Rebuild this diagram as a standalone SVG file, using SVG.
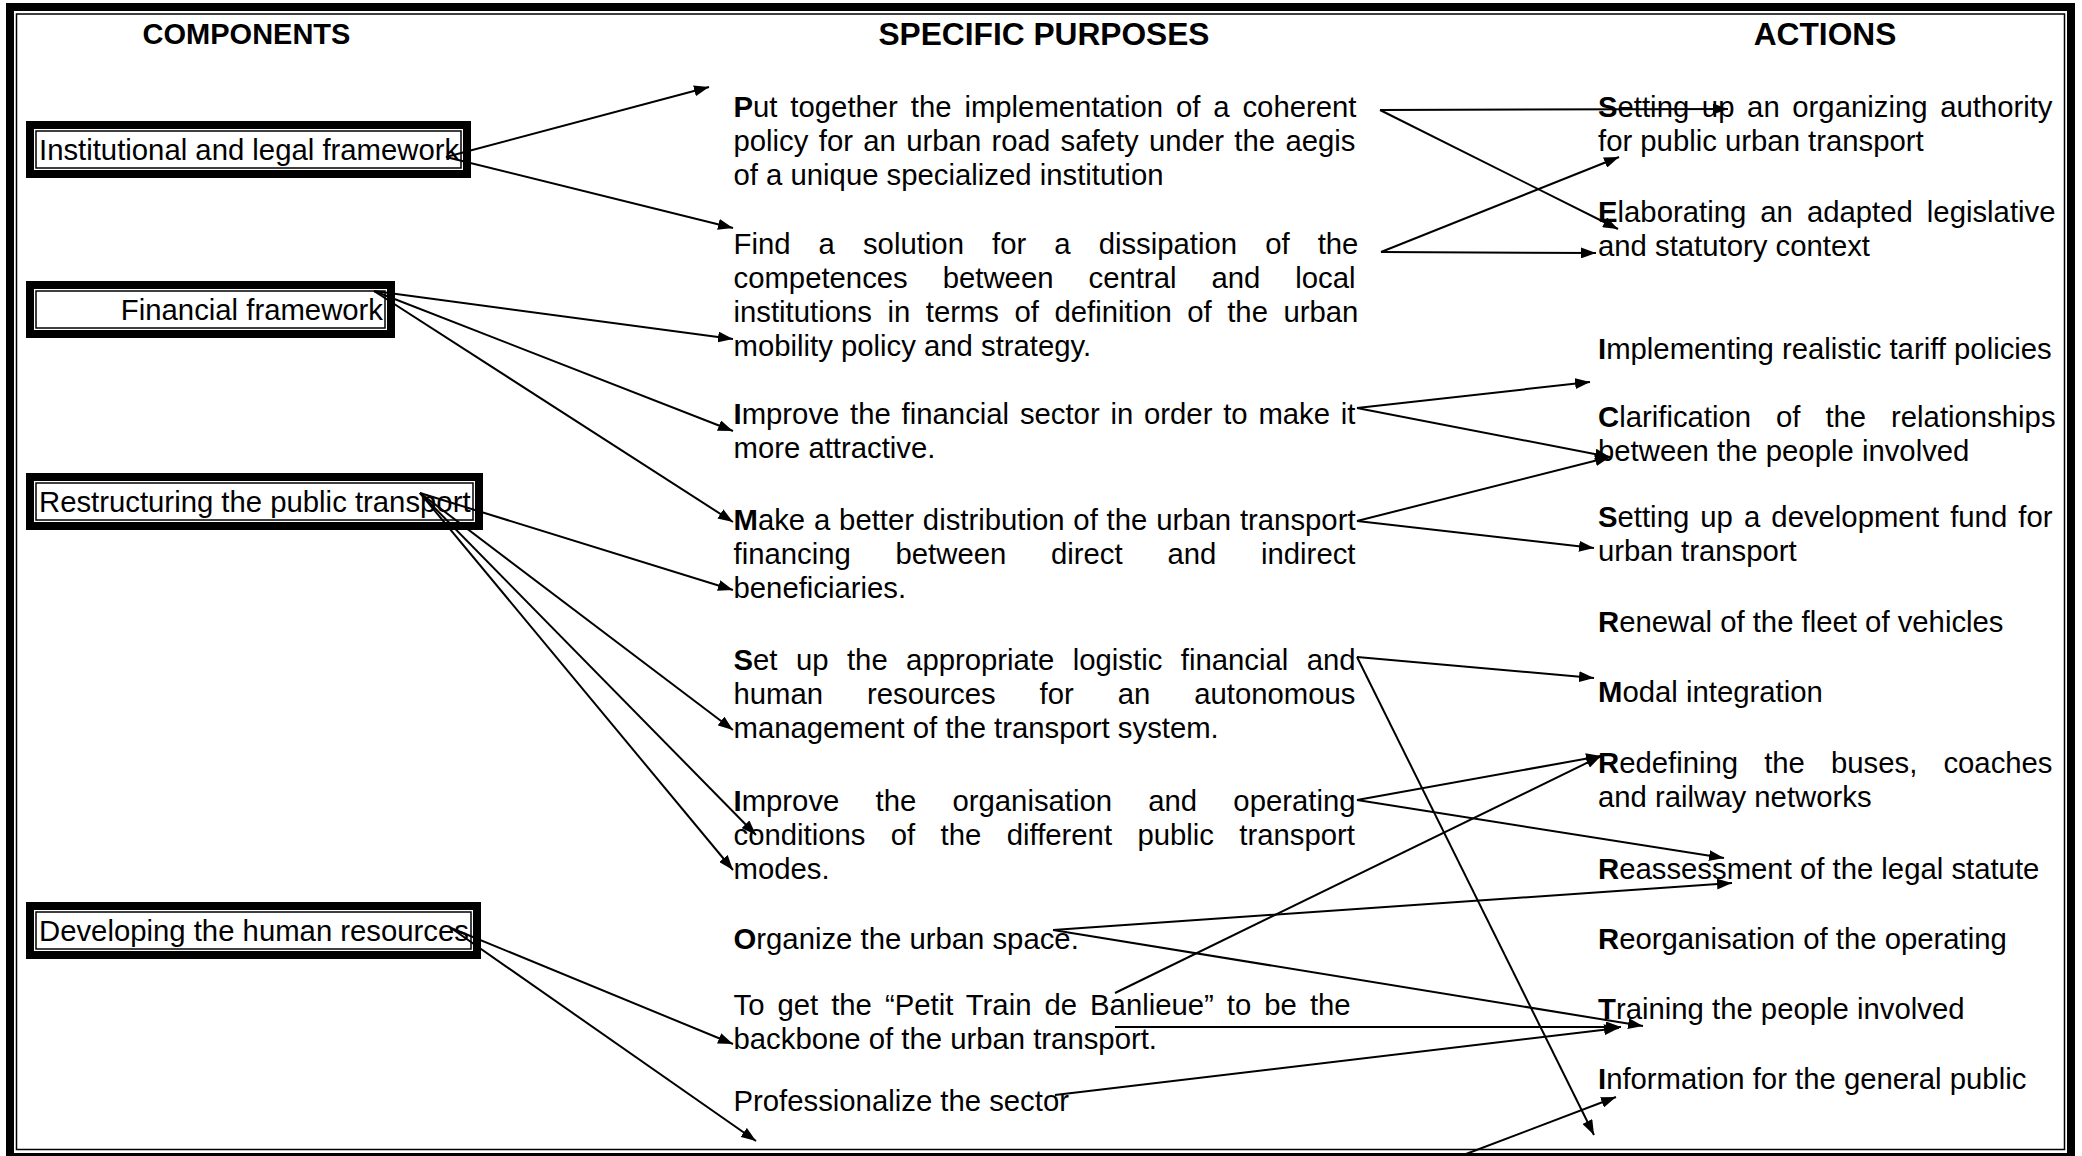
<svg xmlns="http://www.w3.org/2000/svg" width="2082" height="1156" viewBox="0 0 2082 1156">
<style>
text{font-family:"Liberation Sans",Arial,sans-serif;font-size:29.3px;fill:#000}
.h{font-weight:bold;text-anchor:middle}
.b{font-weight:bold}
.thick{fill:#fff;stroke:#000;stroke-width:8}
.thin{fill:none;stroke:#000;stroke-width:1.5}
.c line{stroke:#000;stroke-width:2;marker-end:url(#ah)}
</style>
<defs>
<marker id="ah" markerUnits="userSpaceOnUse" markerWidth="15" markerHeight="11" refX="15" refY="5.5" orient="auto">
<path d="M0,0 L15,5.5 L0,11 z" fill="#000"/>
</marker>
</defs>
<rect width="2082" height="1156" fill="#fff"/>
<g id="frame">
<rect x="10" y="7" width="2061" height="1150" fill="none" stroke="#000" stroke-width="8"/>
<rect x="16.5" y="14" width="2048" height="1135.5" class="thin"/>
</g>
<g id="headers">
<text x="246.5" y="43.5" class="h" style="font-size:29px">COMPONENTS</text>
<text x="1044" y="45" class="h" style="font-size:31.7px">SPECIFIC PURPOSES</text>
<text x="1825" y="44.5" class="h" style="font-size:31.7px">ACTIONS</text>
</g>
<g id="comp-institutional">
<rect x="30" y="125" width="437" height="49" class="thick"/>
<rect x="36" y="131" width="425" height="37" class="thin"/>
<text x="39" y="159.5">Institutional and legal framework</text>
</g>
<g id="comp-financial">
<rect x="30" y="285" width="361" height="49" class="thick"/>
<rect x="36" y="291" width="349" height="37" class="thin"/>
<text x="383" y="319.5" style="text-anchor:end">Financial framework</text>
</g>
<g id="comp-restructuring">
<rect x="30" y="477" width="449" height="49" class="thick"/>
<rect x="36" y="483" width="437" height="37" class="thin"/>
<text x="39" y="511.5">Restructuring the public transport</text>
</g>
<g id="comp-human">
<rect x="30" y="906" width="447" height="49" class="thick"/>
<rect x="36" y="912" width="435" height="37" class="thin"/>
<text x="39" y="940.5">Developing the human resources</text>
</g>
<g id="purpose-1">
<text x="733.5" y="116.5" style="word-spacing:4.75px"><tspan class="b">P</tspan>ut together the implementation of a coherent</text>
<text x="733.5" y="150.5" style="word-spacing:2.22px">policy for an urban road safety under the aegis</text>
<text x="733.5" y="184.5">of a unique specialized institution</text>
</g>
<g id="purpose-2">
<text x="733.5" y="253.5" style="word-spacing:19.94px">Find a solution for a dissipation of the</text>
<text x="733.5" y="287.5" style="word-spacing:26.85px">competences between central and local</text>
<text x="733.5" y="321.5" style="word-spacing:7.38px">institutions in terms of definition of the urban</text>
<text x="733.5" y="355.5">mobility policy and strategy.</text>
</g>
<g id="purpose-3">
<text x="733.5" y="423.5" style="word-spacing:2.64px"><tspan class="b">I</tspan>mprove the financial sector in order to make it</text>
<text x="733.5" y="457.5">more attractive.</text>
</g>
<g id="purpose-4">
<text x="733.5" y="529.5" style="word-spacing:0.69px"><tspan class="b">M</tspan>ake a better distribution of the urban transport</text>
<text x="733.5" y="563.5" style="word-spacing:36.6px">financing between direct and indirect</text>
<text x="733.5" y="597.5">beneficiaries.</text>
</g>
<g id="purpose-5">
<text x="733.5" y="669.5" style="word-spacing:10.3px"><tspan class="b">S</tspan>et up the appropriate logistic financial and</text>
<text x="733.5" y="703.5" style="word-spacing:35.8px">human resources for an autonomous</text>
<text x="733.5" y="737.5">management of the transport system.</text>
</g>
<g id="purpose-6">
<text x="733.5" y="810.5" style="word-spacing:28.06px"><tspan class="b">I</tspan>mprove the organisation and operating</text>
<text x="733.5" y="844.5" style="word-spacing:17.24px">conditions of the different public transport</text>
<text x="733.5" y="878.5">modes.</text>
</g>
<g id="purpose-7">
<text x="733.5" y="948.5"><tspan class="b">O</tspan>rganize the urban space.</text>
</g>
<g id="purpose-8">
<text x="733.5" y="1014.5" style="word-spacing:4.87px">To get the “Petit Train de Banlieue” to be the</text>
<text x="733.5" y="1048.5">backbone of the urban transport.</text>
</g>
<g id="purpose-9">
<text x="733.5" y="1110.5">Professionalize the sector</text>
</g>
<g id="action-1">
<text x="1598" y="116.5" style="word-spacing:4.5px"><tspan class="b">S</tspan>etting up an organizing authority</text>
<text x="1598" y="150.5">for public urban transport</text>
</g>
<g id="action-2">
<text x="1598" y="221.5" style="word-spacing:5.9px"><tspan class="b">E</tspan>laborating an adapted legislative</text>
<text x="1598" y="255.5">and statutory context</text>
</g>
<g id="action-3">
<text x="1598" y="358.5"><tspan class="b">I</tspan>mplementing realistic tariff policies</text>
</g>
<g id="action-4">
<text x="1598" y="426.5" style="word-spacing:16.8px"><tspan class="b">C</tspan>larification of the relationships</text>
<text x="1598" y="460.5">between the people involved</text>
</g>
<g id="action-5">
<text x="1598" y="526.5" style="word-spacing:2.94px"><tspan class="b">S</tspan>etting up a development fund for</text>
<text x="1598" y="560.5">urban transport</text>
</g>
<g id="action-6">
<text x="1598" y="631.5"><tspan class="b">R</tspan>enewal of the fleet of vehicles</text>
</g>
<g id="action-7">
<text x="1598" y="701.5"><tspan class="b">M</tspan>odal integration</text>
</g>
<g id="action-8">
<text x="1598" y="772.5" style="word-spacing:17.95px"><tspan class="b">R</tspan>edefining the buses, coaches</text>
<text x="1598" y="806.5">and railway networks</text>
</g>
<g id="action-9">
<text x="1598" y="878.5"><tspan class="b">R</tspan>eassessment of the legal statute</text>
</g>
<g id="action-10">
<text x="1598" y="948.5"><tspan class="b">R</tspan>eorganisation of the operating</text>
</g>
<g id="action-11">
<text x="1598" y="1018.5"><tspan class="b">T</tspan>raining the people involved</text>
</g>
<g id="action-12">
<text x="1598" y="1088.5"><tspan class="b">I</tspan>nformation for the general public</text>
</g>
<g id="connectors" class="c">
<line x1="446" y1="157" x2="709" y2="87"/>
<line x1="446" y1="157" x2="733" y2="228"/>
<line x1="374" y1="291" x2="733" y2="339"/>
<line x1="374" y1="291" x2="733" y2="431"/>
<line x1="374" y1="291" x2="733" y2="522"/>
<line x1="420" y1="493" x2="733" y2="590"/>
<line x1="420" y1="493" x2="733" y2="730"/>
<line x1="420" y1="493" x2="756" y2="835"/>
<line x1="420" y1="493" x2="733" y2="870"/>
<line x1="451" y1="928" x2="733" y2="1044"/>
<line x1="451" y1="928" x2="756" y2="1141"/>
<line x1="1380" y1="110" x2="1728" y2="109"/>
<line x1="1380" y1="110" x2="1618" y2="229"/>
<line x1="1381" y1="252" x2="1619" y2="157"/>
<line x1="1381" y1="252" x2="1596" y2="253"/>
<line x1="1357" y1="408" x2="1590" y2="382"/>
<line x1="1357" y1="408" x2="1610" y2="457"/>
<line x1="1357" y1="521" x2="1610" y2="457"/>
<line x1="1357" y1="521" x2="1594" y2="548"/>
<line x1="1357" y1="657" x2="1594" y2="678"/>
<line x1="1357" y1="657" x2="1594" y2="1135"/>
<line x1="1357" y1="800" x2="1601" y2="756"/>
<line x1="1357" y1="800" x2="1724" y2="858"/>
<line x1="1053" y1="930" x2="1732" y2="883"/>
<line x1="1053" y1="930" x2="1643" y2="1026"/>
<line x1="1115" y1="993" x2="1601" y2="756"/>
<line x1="1115" y1="1027" x2="1621" y2="1027"/>
<line x1="1055" y1="1095" x2="1619" y2="1028"/>
<line x1="1466" y1="1154" x2="1616" y2="1097"/>
</g>
</svg>
